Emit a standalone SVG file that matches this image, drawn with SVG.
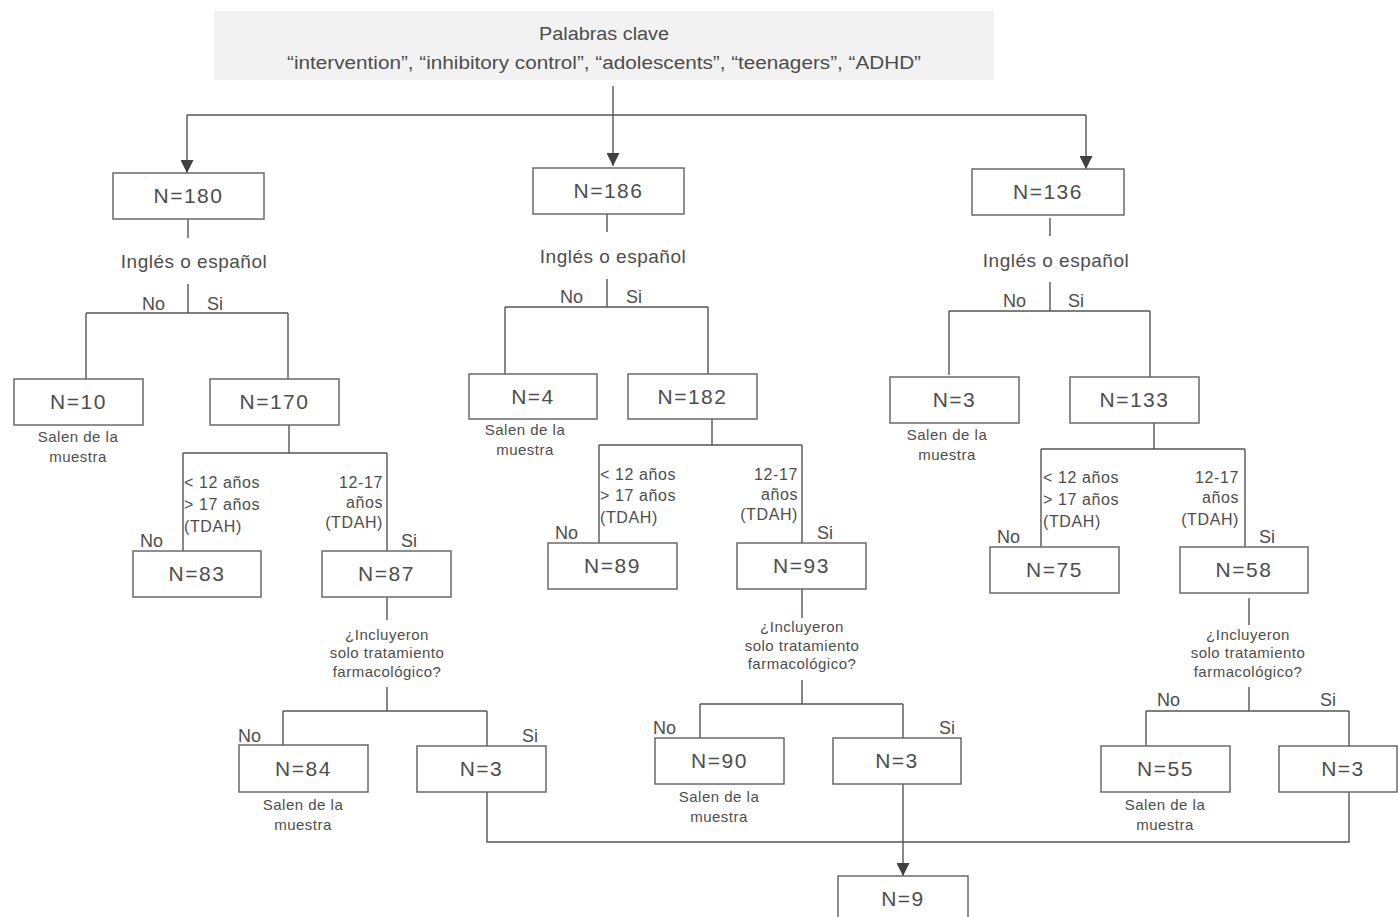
<svg xmlns="http://www.w3.org/2000/svg" width="1398" height="917" viewBox="0 0 1398 917">
<style>
text{font-family:"Liberation Sans",Arial,sans-serif;fill:#4d4d4d}
.box{fill:#fff;stroke:#6a6a6a;stroke-width:1.5}
.n{font-size:21px;text-anchor:middle;letter-spacing:1.5px}
.q{font-size:19px;text-anchor:middle;letter-spacing:0.5px}
.yn{font-size:18px}
.age{font-size:16px;letter-spacing:0.6px}
.end{text-anchor:end}
.s{font-size:15px;text-anchor:middle;letter-spacing:0.5px}
.c path{fill:none;stroke:#555;stroke-width:1.4}
.top{font-family:"Liberation Sans Narrow","Liberation Sans",sans-serif;font-size:18px;text-anchor:middle}
</style>
<defs>
<marker id="ah" viewBox="0 0 10 10" refX="10" refY="5" markerWidth="13" markerHeight="13" markerUnits="userSpaceOnUse" orient="auto">
<path d="M0,0 L10,5 L0,10 z" fill="#404040"/>
</marker>
</defs>
<g id="keywords">
<rect x="214" y="11" width="780" height="69" fill="#f2f2f2"/>
<text class="top" x="604" y="40" textLength="130" lengthAdjust="spacingAndGlyphs">Palabras clave</text>
<text class="top" x="604" y="69" textLength="634" lengthAdjust="spacingAndGlyphs">“intervention”, “inhibitory control”, “adolescents”, “teenagers”, “ADHD”</text>
</g>
<g class="c" id="connectors">
<path d="M613,86 V166" marker-end="url(#ah)"/>
<path d="M187,115 H1086"/>
<path d="M187,115 V173" marker-end="url(#ah)"/>
<path d="M1086,115 V169" marker-end="url(#ah)"/>
<path d="M188,219 V238 M188,284 V313 M86,313 H288 M86,313 V379 M288,313 V379"/>
<path d="M289,425 V453 M183,453 H387 M183,453 V551 M387,453 V551"/>
<path d="M387,597 V620 M387,687 V711 M283,711 H487 M283,711 V745 M487,711 V746"/>
<path d="M487,792 V842 H1349 V792"/>
<path d="M607,214 V232 M607,279 V307 M505,307 H708 M505,307 V374 M708,307 V374"/>
<path d="M712,419 V445 M599,445 H802 M599,445 V543 M802,445 V543"/>
<path d="M802,589 V618 M802,680 V704 M700,704 H903 M700,704 V738 M903,704 V738"/>
<path d="M903,784 V876" marker-end="url(#ah)"/>
<path d="M1050,218 V236 M1050,282 V311 M949,311 H1150 M949,311 V375 M1150,311 V377"/>
<path d="M1154,423 V449 M1041,449 H1245 M1041,449 V547 M1245,449 V547"/>
<path d="M1249,598 V625 M1249,687 V711 M1146,711 H1349 M1146,711 V746 M1349,711 V746"/>
</g>
<g id="n180"><rect class="box" x="113" y="173" width="151" height="46"/><text class="n" x="188.5" y="203">N=180</text></g>
<g id="n186"><rect class="box" x="533" y="168" width="151" height="46"/><text class="n" x="608.5" y="198">N=186</text></g>
<g id="n136"><rect class="box" x="972" y="169" width="152" height="46"/><text class="n" x="1048" y="199">N=136</text></g>
<g id="q1"><text class="q" x="194" y="268">Inglés o español</text><text class="yn" x="142" y="310">No</text><text class="yn" x="207" y="310">Si</text></g>
<g id="q2"><text class="q" x="613" y="263">Inglés o español</text><text class="yn" x="560" y="303">No</text><text class="yn" x="626" y="303">Si</text></g>
<g id="q3"><text class="q" x="1056" y="267">Inglés o español</text><text class="yn" x="1003" y="307">No</text><text class="yn" x="1068" y="307">Si</text></g>
<g id="n10"><rect class="box" x="14" y="379" width="129" height="46"/><text class="n" x="78.5" y="409">N=10</text><text class="s" x="78" y="442">Salen de la</text><text class="s" x="78" y="462">muestra</text></g>
<g id="n170"><rect class="box" x="210" y="379" width="129" height="46"/><text class="n" x="274.5" y="409">N=170</text></g>
<g id="n4"><rect class="box" x="469" y="374" width="128" height="45"/><text class="n" x="533" y="404">N=4</text><text class="s" x="525" y="435">Salen de la</text><text class="s" x="525" y="455">muestra</text></g>
<g id="n182"><rect class="box" x="628" y="374" width="129" height="45"/><text class="n" x="692.5" y="404">N=182</text></g>
<g id="n3a"><rect class="box" x="890" y="377" width="129" height="46"/><text class="n" x="954.5" y="407">N=3</text><text class="s" x="947" y="440">Salen de la</text><text class="s" x="947" y="460">muestra</text></g>
<g id="n133"><rect class="box" x="1070" y="377" width="129" height="46"/><text class="n" x="1134.5" y="407">N=133</text></g>
<g id="age1">
<text class="age" x="184" y="488">&lt; 12 años</text><text class="age" x="184" y="510">&gt; 17 años</text><text class="age" x="184" y="532">(TDAH)</text>
<text class="age end" x="383" y="488">12-17</text><text class="age end" x="383" y="508">años</text><text class="age end" x="383" y="528">(TDAH)</text>
<text class="yn" x="140" y="547">No</text><text class="yn" x="401" y="547">Si</text></g>
<g id="age2">
<text class="age" x="600" y="480">&lt; 12 años</text><text class="age" x="600" y="501">&gt; 17 años</text><text class="age" x="600" y="523">(TDAH)</text>
<text class="age end" x="798" y="480">12-17</text><text class="age end" x="798" y="500">años</text><text class="age end" x="798" y="520">(TDAH)</text>
<text class="yn" x="555" y="539">No</text><text class="yn" x="817" y="539">Si</text></g>
<g id="age3">
<text class="age" x="1043" y="483">&lt; 12 años</text><text class="age" x="1043" y="505">&gt; 17 años</text><text class="age" x="1043" y="527">(TDAH)</text>
<text class="age end" x="1239" y="483">12-17</text><text class="age end" x="1239" y="503">años</text><text class="age end" x="1239" y="525">(TDAH)</text>
<text class="yn" x="997" y="543">No</text><text class="yn" x="1259" y="543">Si</text></g>
<g id="n83"><rect class="box" x="133" y="551" width="128" height="46"/><text class="n" x="197" y="581">N=83</text></g>
<g id="n87"><rect class="box" x="322" y="551" width="129" height="46"/><text class="n" x="386.5" y="581">N=87</text></g>
<g id="n89"><rect class="box" x="548" y="543" width="129" height="46"/><text class="n" x="612.5" y="573">N=89</text></g>
<g id="n93"><rect class="box" x="737" y="543" width="129" height="46"/><text class="n" x="801.5" y="573">N=93</text></g>
<g id="n75"><rect class="box" x="990" y="547" width="129" height="46"/><text class="n" x="1054.5" y="577">N=75</text></g>
<g id="n58"><rect class="box" x="1180" y="547" width="128" height="46"/><text class="n" x="1244" y="577">N=58</text></g>
<g id="f1"><text class="s" x="387" y="640">¿Incluyeron</text><text class="s" x="387" y="658">solo tratamiento</text><text class="s" x="387" y="677">farmacológico?</text>
<text class="yn" x="238" y="742">No</text><text class="yn" x="522" y="742">Si</text></g>
<g id="f2"><text class="s" x="802" y="632">¿Incluyeron</text><text class="s" x="802" y="651">solo tratamiento</text><text class="s" x="802" y="669">farmacológico?</text>
<text class="yn" x="653" y="734">No</text><text class="yn" x="939" y="734">Si</text></g>
<g id="f3"><text class="s" x="1248" y="640">¿Incluyeron</text><text class="s" x="1248" y="658">solo tratamiento</text><text class="s" x="1248" y="677">farmacológico?</text>
<text class="yn" x="1157" y="706">No</text><text class="yn" x="1320" y="706">Si</text></g>
<g id="n84"><rect class="box" x="239" y="745" width="129" height="47"/><text class="n" x="303.5" y="776">N=84</text><text class="s" x="303" y="810">Salen de la</text><text class="s" x="303" y="830">muestra</text></g>
<g id="n3b"><rect class="box" x="417" y="746" width="129" height="46"/><text class="n" x="481.5" y="776">N=3</text></g>
<g id="n90"><rect class="box" x="655" y="738" width="129" height="46"/><text class="n" x="719.5" y="768">N=90</text><text class="s" x="719" y="802">Salen de la</text><text class="s" x="719" y="822">muestra</text></g>
<g id="n3c"><rect class="box" x="833" y="738" width="128" height="46"/><text class="n" x="897" y="768">N=3</text></g>
<g id="n55"><rect class="box" x="1101" y="746" width="129" height="46"/><text class="n" x="1165.5" y="776">N=55</text><text class="s" x="1165" y="810">Salen de la</text><text class="s" x="1165" y="830">muestra</text></g>
<g id="n3d"><rect class="box" x="1279" y="746" width="118" height="46"/><text class="n" x="1343" y="776">N=3</text></g>
<g id="n9"><rect class="box" x="838" y="876" width="130" height="46"/><text class="n" x="903" y="906">N=9</text></g>
</svg>
